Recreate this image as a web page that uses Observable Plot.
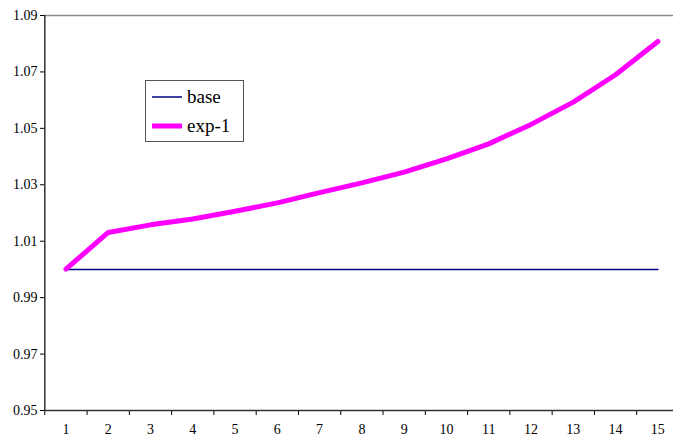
<!DOCTYPE html>
<html>
<head>
<meta charset="utf-8">
<script src="https://cdn.jsdelivr.net/npm/d3@7"></script>
<script src="https://cdn.jsdelivr.net/npm/@observablehq/plot@0.6"></script>
<style>
  html, body { margin: 0; padding: 0; background: #fff; overflow: hidden; }
  #wrap { position: relative; width: 673px; height: 437px; }
  #chart svg text { font-family: "Liberation Serif", Times, serif !important; }
  #legend {
    position: absolute; left: 145px; top: 80px; width: 99px; height: 62px;
    border: 1px solid #555; background: #fff; box-sizing: border-box;
    font-family: "Liberation Serif", Times, serif; font-size: 19px; color: #000;
  }
  .item { position: absolute; left: 6px; display: flex; align-items: center; }
  .sw { display: inline-block; width: 30px; margin-right: 5px; }
</style>
</head>
<body>
<div id="wrap">
  <div id="chart"></div>
  <div id="legend"></div>
</div>
<script>
const xCats = [1, 2, 3, 4, 5, 6, 7, 8, 9, 10, 11, 12, 13, 14, 15];
const baseValues = [1.000, 1.000, 1.000, 1.000, 1.000, 1.000, 1.000, 1.000, 1.000, 1.000, 1.000, 1.000, 1.000, 1.000, 1.000];
const exp1Values = [1.0001, 1.0131, 1.0158, 1.0179, 1.0206, 1.0236, 1.0272, 1.0307, 1.0345, 1.0392, 1.0445, 1.0514, 1.0593, 1.0690, 1.0808];
const yTicks = [0.95, 0.97, 0.99, 1.01, 1.03, 1.05, 1.07, 1.09];
const seriesNames = ["base", "exp-1"];
const seriesColors = ["#000080", "#ff00ff"];
const seriesWidths = [1.5, 5];

const baseData = xCats.map((x, i) => ({x, y: baseValues[i]}));
const expData = xCats.map((x, i) => ({x, y: exp1Values[i]}));
const bounds = xCats.map(c => c - 0.5);

const font = "Liberation Serif";

const chart = Plot.plot({
  width: 673,
  height: 437,
  marginLeft: 44,
  marginRight: 0,
  marginTop: 15,
  marginBottom: 27,
  style: {fontFamily: font, fontSize: "14px", color: "#000", background: "#fff", overflow: "hidden"},
  x: {type: "linear", domain: [0.5, 15.5], range: [44.3, 678.5]},
  y: {domain: [0.95, 1.09]},
  marks: [
    Plot.ruleY([yTicks[yTicks.length - 1]], {stroke: "#888", strokeWidth: 1.5}),
    Plot.axisY({ticks: yTicks, tickSize: 4, tickPadding: 3, tickFormat: d3.format(".2f"), label: null, fontSize: 14, fontFamily: font, stroke: "#000", strokeOpacity: 1}),
    Plot.axisX({ticks: bounds, tickSize: 5, tickFormat: () => "", label: null, stroke: "#000", strokeOpacity: 1}),
    Plot.axisX({ticks: xCats, tickSize: 0, tickPadding: 14, tickFormat: d3.format("d"), label: null, fontSize: 14, fontFamily: font}),
    Plot.ruleX([0.5], {stroke: "#333", strokeWidth: 1.5}),
    Plot.ruleY([0.95], {stroke: "#333", strokeWidth: 1.5}),
    Plot.line(baseData, {x: "x", y: "y", stroke: seriesColors[0], strokeWidth: seriesWidths[0]}),
    Plot.line(expData, {x: "x", y: "y", stroke: seriesColors[1], strokeWidth: seriesWidths[1], strokeLinejoin: "round", strokeLinecap: "round"})
  ]
});
document.getElementById("chart").appendChild(chart);

const legend = document.getElementById("legend");
seriesNames.forEach((name, i) => {
  const item = document.createElement("div");
  item.className = "item";
  item.style.top = (i === 0 ? 5 : 34) + "px";
  item.innerHTML = `<svg class="sw" width="30" height="20"><line x1="0" x2="30" y1="10" y2="10" stroke="${seriesColors[i]}" stroke-width="${seriesWidths[i]}"/></svg><span>${name}</span>`;
  legend.appendChild(item);
});
</script>
</body>
</html>
